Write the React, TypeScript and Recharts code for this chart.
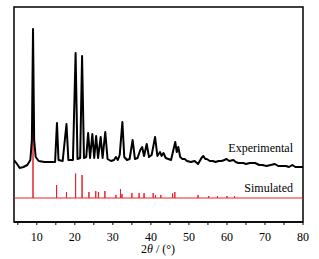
import React from "react";
import {
  ComposedChart,
  Line,
  XAxis,
  YAxis,
  ReferenceArea,
} from "recharts";

const expAngles = [
  4.0, 4.8, 5.5, 6.5, 7.5, 8.3, 8.7, 9.0, 9.3, 9.7, 10.5, 12.0, 13.5, 14.8,
  15.3, 15.7, 16.8, 17.8, 18.3, 19.5, 20.2, 20.7, 21.4, 21.9, 22.4, 23.0,
  23.5, 24.0, 24.6, 25.1, 25.6, 26.1, 26.8, 27.3, 28.0, 28.6, 29.5, 30.3,
  30.8, 31.3, 31.8, 32.5, 33.0, 33.7, 34.4, 35.2, 35.8, 36.5, 37.2, 37.7,
  38.2, 38.9, 39.5, 40.2, 41.1, 41.7, 42.4, 42.8, 43.3, 43.9, 44.6, 45.3,
  46.4, 46.8, 47.2, 47.7, 48.3, 48.9, 49.5, 50.5, 51.5, 52.4, 53.3, 53.8,
  54.3, 54.7, 55.5, 56.3, 57.0, 57.8, 58.6, 59.3, 59.9, 60.6, 61.7, 62.3,
  63.0, 64.3, 65.0, 66.0, 67.4, 68.5, 69.3, 70.4, 71.5, 72.6, 73.5, 74.6,
  75.5, 76.3, 77.2, 78.0, 79.0, 80.0,
];
const expIntensity = [
  8, 4, 0, 1, 3, 8, 28, 139, 28, 11, 7, 6, 6, 6,
  45, 8, 7, 44, 8, 8, 115, 9, 10, 112, 10, 11,
  35, 10, 34, 10, 32, 10, 31, 10, 36, 9, 7, 8,
  11, 8, 13, 46, 11, 8, 9, 28, 9, 10, 18, 21,
  12, 24, 11, 13, 31, 12, 16, 12, 15, 10, 9, 8,
  26, 16, 21, 11, 9, 9, 7, 6, 7, 4, 10, 12,
  9, 9, 7, 7, 6, 7, 7, 8, 9, 7, 8, 6,
  5, 5, 4, 5, 5, 3, 3, 2, 3, 4, 2, 2,
  2, 1, 3, 1, 1, 1,
];
const EXP_OFFSET = 30;

// simulated stick pattern
const simAngles = [
  9.0, 15.2, 17.8, 20.2, 21.9, 23.7, 25.5, 26.2, 27.9, 30.8, 32.0, 32.4,
  35.0, 36.9, 38.2, 40.6, 41.2, 42.6, 45.7, 46.3, 52.4, 55.2, 57.5, 60.0,
  62.0,
];
const simIntensity = [
  88, 13, 6, 24.5, 23, 6, 7, 6, 7, 3, 9, 4,
  5, 5, 5, 5, 3, 3, 4.5, 6, 3, 2, 2, 2,
  2,
];

const xTicks = [5, 10, 15, 20, 25, 30, 35, 40, 45, 50, 55, 60, 65, 70, 75, 80];

const expData = expAngles.map((x, i) => ({ x, y: expIntensity[i] + EXP_OFFSET }));

const simData: { x: number; y: number }[] = [{ x: 4, y: 0 }];
simAngles.forEach((x, i) => {
  simData.push({ x, y: 0 }, { x, y: simIntensity[i] }, { x, y: 0 });
});
simData.push({ x: 80, y: 0 });

const serif = "'Times New Roman', 'Liberation Serif', 'DejaVu Serif', serif";

export default function App() {
  return (
    <div
      style={{
        position: "absolute",
        left: 0,
        top: 0,
        width: 319,
        height: 259,
        background: "#fff",
        fontFamily: serif,
      }}
    >
      <ComposedChart
        width={319}
        height={259}
        margin={{ top: 7, right: 16, left: 14, bottom: 0 }}
        style={{ fontFamily: serif }}
      >
        <XAxis
          type="number"
          dataKey="x"
          domain={[4, 80]}
          ticks={xTicks}
          interval={0}
          allowDataOverflow
          height={37}
          tickSize={3}
          tickMargin={7}
          tickFormatter={(v: number) => (v % 10 === 0 ? String(v) : "")}
          axisLine={{ stroke: "#000", strokeWidth: 1.5 }}
          tickLine={{ stroke: "#000", strokeWidth: 1 }}
          tick={{ fill: "#000", fontSize: 12, style: { fontFamily: serif } }}
        />
        <YAxis type="number" domain={[-24, 191]} hide allowDataOverflow />
        <Line
          data={simData}
          dataKey="y"
          type="linear"
          stroke="#e8202c"
          strokeWidth={1}
          dot={false}
          activeDot={false}
          isAnimationActive={false}
        />
        <Line
          data={expData}
          dataKey="y"
          type="linear"
          stroke="#000"
          strokeWidth={2}
          strokeLinejoin="round"
          dot={false}
          activeDot={false}
          isAnimationActive={false}
        />
        <ReferenceArea
          x1={4}
          x2={80}
          y1={-24}
          y2={191}
          fill="none"
          fillOpacity={0}
          stroke="#000"
          strokeWidth={1.5}
          ifOverflow="visible"
        />
      </ComposedChart>
      <span
        style={{
          position: "absolute",
          right: 26,
          top: 141,
          fontSize: 12,
          color: "#000",
          lineHeight: "14px",
        }}
      >
        Experimental
      </span>
      <span
        style={{
          position: "absolute",
          right: 26,
          top: 181,
          fontSize: 12,
          color: "#000",
          lineHeight: "14px",
        }}
      >
        Simulated
      </span>
      <span
        style={{
          position: "absolute",
          left: 141,
          top: 242,
          fontSize: 12,
          color: "#000",
          lineHeight: "14px",
          whiteSpace: "nowrap",
        }}
      >
        2<i>θ</i> / (°)
      </span>
    </div>
  );
}
